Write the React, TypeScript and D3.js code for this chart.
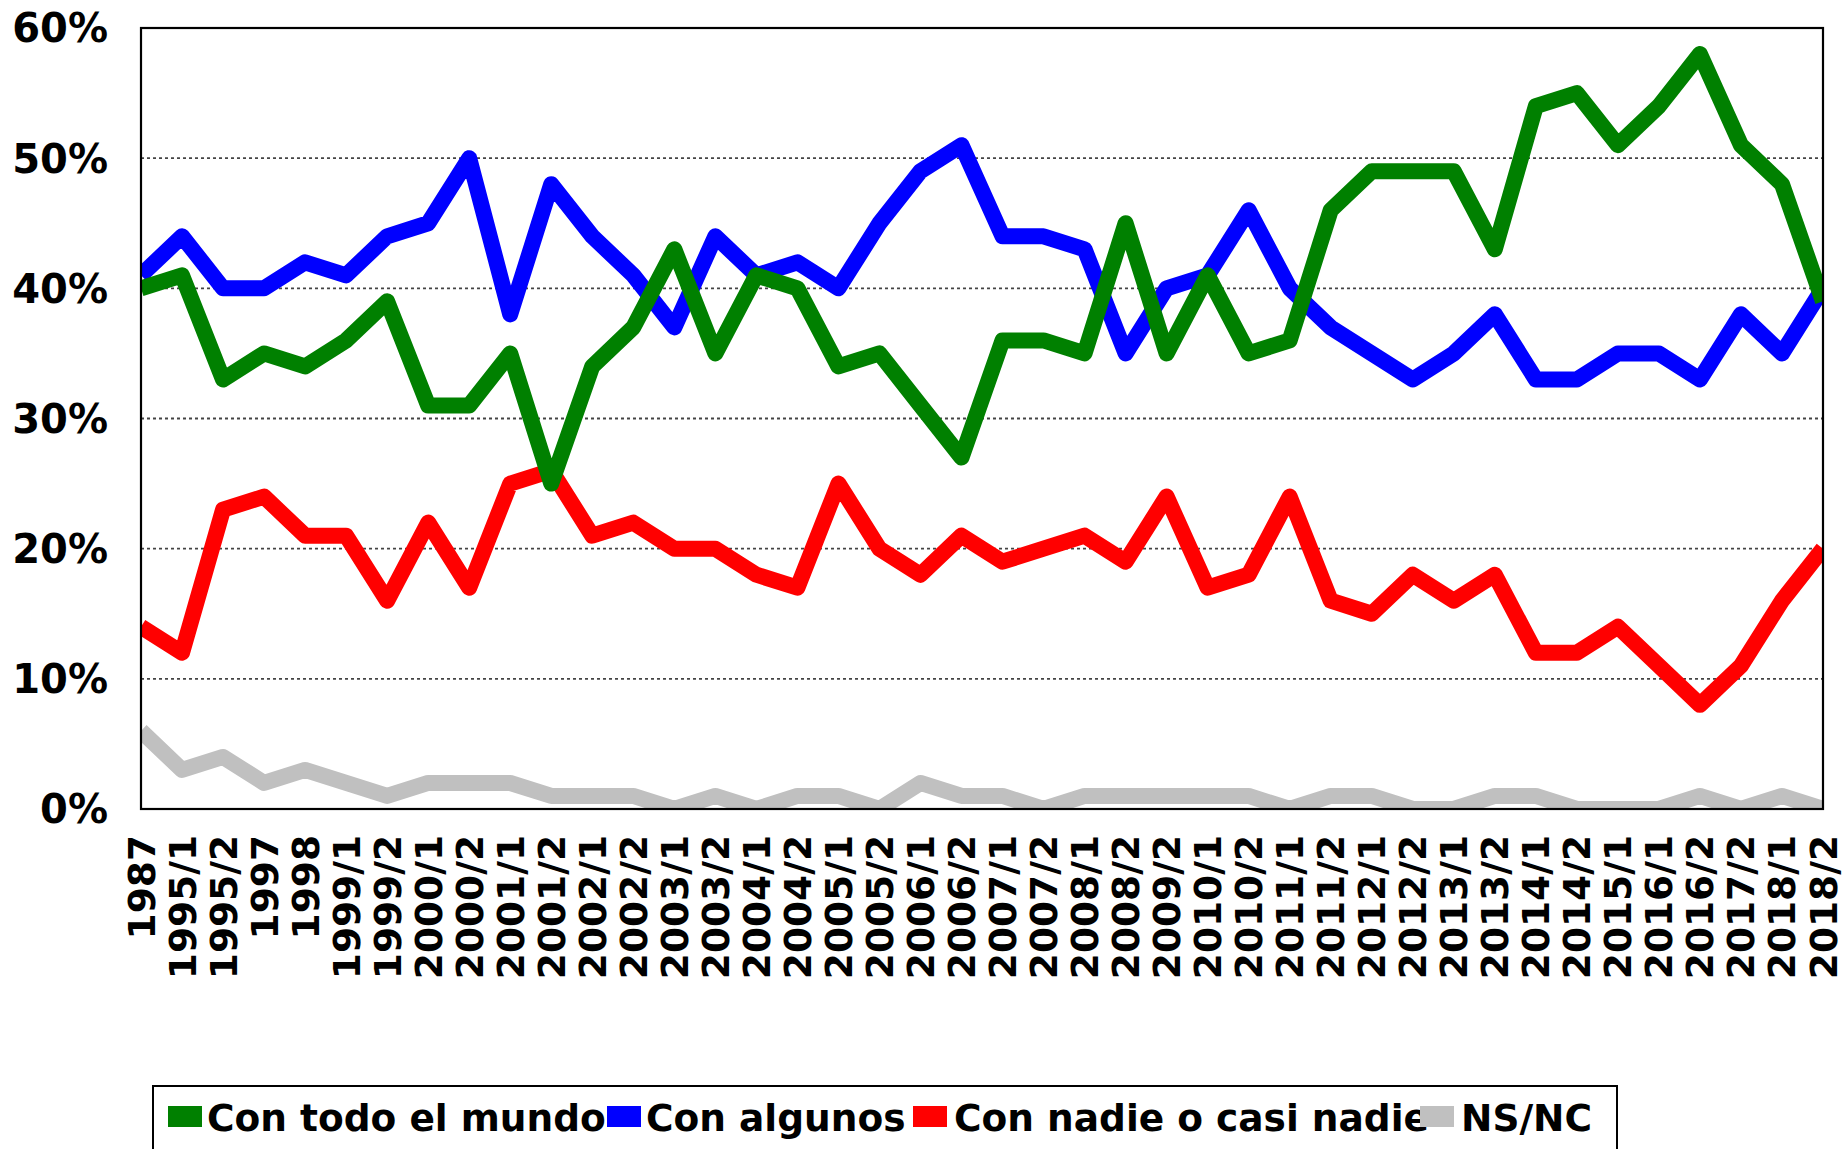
import React from "react";
import * as d3 from "d3";

const categories = [
  "1987", "1995/1", "1995/2", "1997", "1998", "1999/1", "1999/2", "2000/1", "2000/2",
  "2001/1", "2001/2", "2002/1", "2002/2", "2003/1", "2003/2", "2004/1", "2004/2",
  "2005/1", "2005/2", "2006/1", "2006/2", "2007/1", "2007/2", "2008/1", "2008/2",
  "2009/2", "2010/1", "2010/2", "2011/1", "2011/2", "2012/1", "2012/2", "2013/1",
  "2013/2", "2014/1", "2014/2", "2015/1", "2016/1", "2016/2", "2017/2", "2018/1", "2018/2",
];

const conTodoElMundo = [
  40, 41, 33, 35, 34, 36, 39, 31, 31, 35, 25, 34, 37, 43, 35, 41, 40, 34, 35, 31, 27,
  36, 36, 35, 45, 35, 41, 35, 36, 46, 49, 49, 49, 43, 54, 55, 51, 54, 58, 51, 48, 39,
];
const conAlgunos = [
  41, 44, 40, 40, 42, 41, 44, 45, 50, 38, 48, 44, 41, 37, 44, 41, 42, 40, 45, 49, 51,
  44, 44, 43, 35, 40, 41, 46, 40, 37, 35, 33, 35, 38, 33, 33, 35, 35, 33, 38, 35, 40,
];
const conNadie = [
  14, 12, 23, 24, 21, 21, 16, 22, 17, 25, 26, 21, 22, 20, 20, 18, 17, 25, 20, 18, 21,
  19, 20, 21, 19, 24, 17, 18, 24, 16, 15, 18, 16, 18, 12, 12, 14, 11, 8, 11, 16, 20,
];
const nsnc = [
  6, 3, 4, 2, 3, 2, 1, 2, 2, 2, 1, 1, 1, 0, 1, 0, 1, 1, 0, 2, 1,
  1, 0, 1, 1, 1, 1, 1, 0, 1, 1, 0, 0, 1, 1, 0, 0, 0, 1, 0, 1, 0,
];

const yTicks = [0, 10, 20, 30, 40, 50, 60];

const seriesNames = ["Con todo el mundo", "Con algunos", "Con nadie o casi nadie", "NS/NC"];
const seriesColors = ["#008000", "#0000ff", "#ff0000", "#c0c0c0"];
const seriesValues = [conTodoElMundo, conAlgunos, conNadie, nsnc];

// layout
const W = 1847;
const H = 1149;
const plotL = 141;
const plotR = 1823;
const plotT = 28;
const plotB = 809;
const FONT = "'DejaVu Sans', Verdana, sans-serif";
const legendSwatchX = [168, 607, 913, 1420];
const legendTextX = [207, 646, 954, 1461];

export default function App() {
  const x = d3.scalePoint<string>().domain(categories).range([plotL, plotR]);
  const y = d3.scaleLinear().domain([0, 60]).range([plotB, plotT]);

  const line = d3
    .line<number>()
    .x((_, i) => x(categories[i]) as number)
    .y((v) => y(v));

  const drawOrder = [3, 2, 1, 0];

  return (
    <svg
      width={W}
      height={H}
      style={{ position: "absolute", left: 0, top: 0, background: "#fff" }}
      fontFamily={FONT}
    >
      <defs>
        <clipPath id="plotClip">
          <rect x={plotL} y={plotT} width={plotR - plotL} height={plotB - plotT} />
        </clipPath>
      </defs>
      <rect x={0} y={0} width={W} height={H} fill="#fff" />

      {/* gridlines */}
      {yTicks
        .filter((t) => t > 0 && t < 60)
        .map((t) => (
          <line
            key={"g" + t}
            x1={plotL}
            x2={plotR}
            y1={y(t)}
            y2={y(t)}
            stroke="#444"
            strokeWidth={1.8}
            strokeDasharray="3 3"
          />
        ))}

      {/* series */}
      <g clipPath="url(#plotClip)">
        {drawOrder.map((si) => (
          <path
            key={seriesNames[si]}
            d={line(seriesValues[si]) as string}
            fill="none"
            stroke={seriesColors[si]}
            strokeWidth={16}
            strokeLinejoin="round"
            strokeLinecap="butt"
          />
        ))}
      </g>

      {/* plot border */}
      <rect
        x={plotL}
        y={plotT}
        width={plotR - plotL}
        height={plotB - plotT}
        fill="none"
        stroke="#000"
        strokeWidth={2.2}
      />

      {/* y labels */}
      {yTicks.map((t) => (
        <text
          key={"y" + t}
          x={108}
          y={y(t)}
          dy="0.36em"
          textAnchor="end"
          fontSize={40}
          fontWeight="bold"
          fill="#000"
        >
          {t}%
        </text>
      ))}

      {/* x labels */}
      {categories.map((c) => (
        <text
          key={"x" + c}
          transform={`translate(${x(c)},835) rotate(-90)`}
          dy="0.36em"
          textAnchor="end"
          fontSize={37.5}
          fontWeight="bold"
          fill="#000"
        >
          {c}
        </text>
      ))}

      {/* legend */}
      <rect x={153} y={1086} width={1617 - 153} height={90} fill="#fff" stroke="#000" strokeWidth={2} />
      {seriesNames.map((n, i) => (
        <g key={"l" + n}>
          <rect x={legendSwatchX[i]} y={1106} width={34} height={21} fill={seriesColors[i]} />
          <text x={legendTextX[i]} y={1131} fontSize={37.5} fontWeight="bold" fill="#000">
            {n}
          </text>
        </g>
      ))}
    </svg>
  );
}
